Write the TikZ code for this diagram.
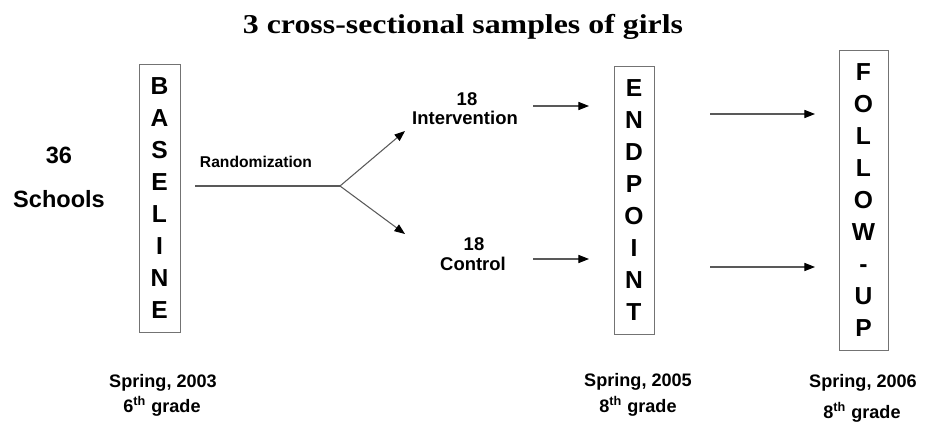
\documentclass[tikz,border=0pt]{standalone}
\usepackage{graphicx}
\usepackage{fontspec}
\setmainfont{Liberation Sans}
\newfontfamily\titlefont{Liberation Serif}
\usetikzlibrary{arrows.meta}

\begin{document}
\begin{tikzpicture}[x=0.02cm,y=-0.02cm,
  stage/.style={draw=black!55,inner sep=0pt,align=center,
    font=\fontsize{14}{18.2}\selectfont\bfseries},
  lbl/.style={anchor=base,inner sep=0pt,font=\fontsize{10.5}{12}\selectfont\bfseries},
  datelbl/.style={anchor=base,inner sep=0pt,font=\fontsize{10.3}{12}\selectfont\bfseries},
  flow/.style={draw=black!65,line width=0.6pt},
  arr/.style={flow,-{Triangle[length=6pt,width=4.6pt,color=black]}}]
\useasboundingbox (0,0) rectangle (926,429);
% title
\node[anchor=base,inner sep=0pt,font=\titlefont\fontsize{15.5}{18}\selectfont\bfseries] (title) at (463,34) {\scalebox{1.17}[1]{3 cross-sectional samples of girls}};
% the three measurement stages
\node[stage,minimum width=0.82cm,minimum height=5.36cm] (base) at (159.5,198) {B\\A\\S\\E\\L\\I\\N\\E};
\node[stage,minimum width=0.80cm,minimum height=5.36cm] (endp) at (634,200) {E\\N\\D\\P\\O\\I\\N\\T};
\node[stage,minimum width=0.98cm,minimum height=6.00cm] (follow) at (863.5,200) {F\\O\\L\\L\\O\\W\\-\\U\\P};
% schools
\node[anchor=base,inner sep=0pt,font=\fontsize{13.4}{15}\selectfont\bfseries] (n36) at (59,163) {36};
\node[anchor=base,inner sep=0pt,font=\fontsize{13.4}{15}\selectfont\bfseries] (schools) at (59,207) {Schools};
% randomization
\node[anchor=base,inner sep=0pt,font=\fontsize{8.9}{10}\selectfont\bfseries] (rand) at (256,167) {Randomization};
\coordinate (rstart) at (195,186);
\coordinate (split) at (340,186);
\coordinate (itip) at (405,131);
\coordinate (ctip) at (405,234);
\draw[flow] (rstart) -- (split);
\draw[arr] (split) -- (itip);
\draw[arr] (split) -- (ctip);
% the two arms
\node[lbl] (i18) at (467,106) {18};
\node[lbl] (intv) at (465,125) {Intervention};
\node[lbl] (c18) at (474,250) {18};
\node[lbl] (ctrl) at (473,270) {Control};
\coordinate (ia) at (533,106);
\coordinate (ib) at (589,106);
\coordinate (ca) at (533,259);
\coordinate (cb) at (589,259);
\draw[arr] (ia) -- (ib);
\draw[arr] (ca) -- (cb);
% endpoint to follow-up
\coordinate (fa) at (710,114);
\coordinate (fb) at (815,114);
\coordinate (ga) at (710,267);
\coordinate (gb) at (815,267);
\draw[arr] (fa) -- (fb);
\draw[arr] (ga) -- (gb);
% dates
\node[datelbl] (d1) at (163,387) {Spring, 2003};
\node[datelbl] (g1) at (162,412) {6\textsuperscript{th} grade};
\node[datelbl] (d2) at (638,386) {Spring, 2005};
\node[datelbl] (g2) at (638,412) {8\textsuperscript{th} grade};
\node[datelbl] (d3) at (863,387) {Spring, 2006};
\node[datelbl] (g3) at (862,418) {8\textsuperscript{th} grade};
\end{tikzpicture}
\end{document}
